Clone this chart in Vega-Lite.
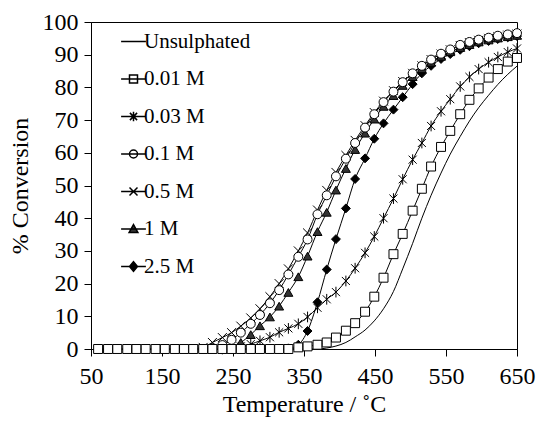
{
  "$schema": "https://vega.github.io/schema/vega-lite/v6.json",
  "width": 426,
  "height": 327,
  "autosize": "none",
  "padding": {"left": 91, "top": 22, "right": 21, "bottom": 72},
  "background": "white",
  "config": {
    "font": "Liberation Serif, Times New Roman, serif",
    "view": {"stroke": "black", "strokeWidth": 1},
    "axis": {
      "grid": false,
      "domainColor": "black",
      "tickColor": "black",
      "labelColor": "black",
      "titleColor": "black",
      "labelFont": "Liberation Serif, Times New Roman, serif",
      "titleFont": "Liberation Serif, Times New Roman, serif",
      "labelFontSize": 24,
      "titleFontSize": 24,
      "titleFontWeight": "normal",
      "tickSize": 7
    },
    "legend": {
      "labelFont": "Liberation Serif, Times New Roman, serif",
      "labelFontSize": 21,
      "labelColor": "black",
      "padding": 0
    }
  },
  "data": {
    "values": [
      {"s":"Unsulphated","t":60,"v":0},{"s":"Unsulphated","t":74,"v":0},{"s":"Unsulphated","t":87,"v":0},{"s":"Unsulphated","t":101,"v":0},{"s":"Unsulphated","t":114,"v":0},{"s":"Unsulphated","t":127,"v":0},{"s":"Unsulphated","t":141,"v":0},{"s":"Unsulphated","t":154,"v":0},{"s":"Unsulphated","t":168,"v":0},{"s":"Unsulphated","t":181,"v":0},{"s":"Unsulphated","t":194,"v":0},{"s":"Unsulphated","t":208,"v":0},{"s":"Unsulphated","t":221,"v":0},{"s":"Unsulphated","t":235,"v":0},{"s":"Unsulphated","t":248,"v":0},{"s":"Unsulphated","t":261,"v":0},{"s":"Unsulphated","t":275,"v":0},{"s":"Unsulphated","t":288,"v":0},{"s":"Unsulphated","t":302,"v":0},{"s":"Unsulphated","t":315,"v":0},{"s":"Unsulphated","t":328,"v":0},{"s":"Unsulphated","t":342,"v":0},{"s":"Unsulphated","t":355,"v":0},{"s":"Unsulphated","t":369,"v":0},{"s":"Unsulphated","t":382,"v":0.3},{"s":"Unsulphated","t":395,"v":0.9},{"s":"Unsulphated","t":409,"v":2},{"s":"Unsulphated","t":422,"v":3.7},{"s":"Unsulphated","t":436,"v":5.8},{"s":"Unsulphated","t":449,"v":8.6},{"s":"Unsulphated","t":462,"v":12.3},{"s":"Unsulphated","t":476,"v":17.6},{"s":"Unsulphated","t":489,"v":24.5},{"s":"Unsulphated","t":503,"v":32.3},{"s":"Unsulphated","t":516,"v":40},{"s":"Unsulphated","t":529,"v":47},{"s":"Unsulphated","t":543,"v":53.8},{"s":"Unsulphated","t":556,"v":59.6},{"s":"Unsulphated","t":570,"v":65},{"s":"Unsulphated","t":583,"v":69.7},{"s":"Unsulphated","t":596,"v":73.8},{"s":"Unsulphated","t":610,"v":77.6},{"s":"Unsulphated","t":623,"v":80.9},{"s":"Unsulphated","t":637,"v":84},{"s":"Unsulphated","t":650,"v":86.5},

      {"s":"0.03 M","t":235,"v":0},{"s":"0.03 M","t":248,"v":0.3},{"s":"0.03 M","t":261,"v":0.8},{"s":"0.03 M","t":275,"v":1.5},{"s":"0.03 M","t":288,"v":2.5},{"s":"0.03 M","t":302,"v":3.6},{"s":"0.03 M","t":315,"v":5.1},{"s":"0.03 M","t":328,"v":6.3},{"s":"0.03 M","t":342,"v":7.7},{"s":"0.03 M","t":355,"v":9.8},{"s":"0.03 M","t":369,"v":12.6},{"s":"0.03 M","t":382,"v":15.2},{"s":"0.03 M","t":395,"v":17.4},{"s":"0.03 M","t":409,"v":20.8},{"s":"0.03 M","t":422,"v":24.7},{"s":"0.03 M","t":436,"v":29.4},{"s":"0.03 M","t":449,"v":34.4},{"s":"0.03 M","t":462,"v":40},{"s":"0.03 M","t":476,"v":46},{"s":"0.03 M","t":489,"v":51.9},{"s":"0.03 M","t":503,"v":57.9},{"s":"0.03 M","t":516,"v":63},{"s":"0.03 M","t":529,"v":68.2},{"s":"0.03 M","t":543,"v":72.7},{"s":"0.03 M","t":556,"v":76.4},{"s":"0.03 M","t":570,"v":80.3},{"s":"0.03 M","t":583,"v":83.2},{"s":"0.03 M","t":596,"v":85.6},{"s":"0.03 M","t":610,"v":87.7},{"s":"0.03 M","t":623,"v":89.3},{"s":"0.03 M","t":637,"v":90.8},{"s":"0.03 M","t":650,"v":91.9},

      {"s":"0.5 M","t":194,"v":0},{"s":"0.5 M","t":208,"v":0.5},{"s":"0.5 M","t":221,"v":2},{"s":"0.5 M","t":235,"v":3.5},{"s":"0.5 M","t":248,"v":5},{"s":"0.5 M","t":261,"v":7},{"s":"0.5 M","t":275,"v":9.5},{"s":"0.5 M","t":288,"v":12.3},{"s":"0.5 M","t":302,"v":16},{"s":"0.5 M","t":315,"v":20},{"s":"0.5 M","t":328,"v":24.5},{"s":"0.5 M","t":342,"v":30},{"s":"0.5 M","t":355,"v":35.5},{"s":"0.5 M","t":369,"v":42.5},{"s":"0.5 M","t":382,"v":48.5},{"s":"0.5 M","t":395,"v":54},{"s":"0.5 M","t":409,"v":59.2},{"s":"0.5 M","t":422,"v":63.8},{"s":"0.5 M","t":436,"v":68.3},{"s":"0.5 M","t":449,"v":72.3},{"s":"0.5 M","t":462,"v":75.8},{"s":"0.5 M","t":476,"v":79},{"s":"0.5 M","t":489,"v":81.8},{"s":"0.5 M","t":503,"v":84.3},{"s":"0.5 M","t":516,"v":86.6},{"s":"0.5 M","t":529,"v":88.5},{"s":"0.5 M","t":543,"v":90.2},{"s":"0.5 M","t":556,"v":91.5},{"s":"0.5 M","t":570,"v":92.8},{"s":"0.5 M","t":583,"v":93.7},{"s":"0.5 M","t":596,"v":94.4},{"s":"0.5 M","t":610,"v":95},{"s":"0.5 M","t":623,"v":95.5},{"s":"0.5 M","t":637,"v":96},{"s":"0.5 M","t":650,"v":96.3},

      {"s":"2.5 M","t":315,"v":0},{"s":"2.5 M","t":328,"v":0.2},{"s":"2.5 M","t":342,"v":1.3},{"s":"2.5 M","t":355,"v":5.5},{"s":"2.5 M","t":369,"v":14.3},{"s":"2.5 M","t":382,"v":24.3},{"s":"2.5 M","t":395,"v":33.6},{"s":"2.5 M","t":409,"v":43},{"s":"2.5 M","t":422,"v":52},{"s":"2.5 M","t":436,"v":58.3},{"s":"2.5 M","t":449,"v":64.3},{"s":"2.5 M","t":462,"v":69},{"s":"2.5 M","t":476,"v":73.2},{"s":"2.5 M","t":489,"v":77},{"s":"2.5 M","t":503,"v":81},{"s":"2.5 M","t":516,"v":84.3},{"s":"2.5 M","t":529,"v":86.6},{"s":"2.5 M","t":543,"v":88.7},{"s":"2.5 M","t":556,"v":90.2},{"s":"2.5 M","t":570,"v":91.5},{"s":"2.5 M","t":583,"v":92.6},{"s":"2.5 M","t":596,"v":93.5},{"s":"2.5 M","t":610,"v":94.2},{"s":"2.5 M","t":623,"v":94.8},{"s":"2.5 M","t":637,"v":95.3},{"s":"2.5 M","t":650,"v":95.7},

      {"s":"1 M","t":235,"v":0},{"s":"1 M","t":248,"v":0.7},{"s":"1 M","t":261,"v":2},{"s":"1 M","t":275,"v":4.4},{"s":"1 M","t":288,"v":7.1},{"s":"1 M","t":302,"v":9.8},{"s":"1 M","t":315,"v":13.1},{"s":"1 M","t":328,"v":17.3},{"s":"1 M","t":342,"v":22.1},{"s":"1 M","t":355,"v":28.4},{"s":"1 M","t":369,"v":35.9},{"s":"1 M","t":382,"v":41.8},{"s":"1 M","t":395,"v":48.6},{"s":"1 M","t":409,"v":55.2},{"s":"1 M","t":422,"v":61},{"s":"1 M","t":436,"v":66},{"s":"1 M","t":449,"v":70.3},{"s":"1 M","t":462,"v":74.2},{"s":"1 M","t":476,"v":77.5},{"s":"1 M","t":489,"v":80.6},{"s":"1 M","t":503,"v":83.3},{"s":"1 M","t":516,"v":85.7},{"s":"1 M","t":529,"v":87.7},{"s":"1 M","t":543,"v":89.5},{"s":"1 M","t":556,"v":90.9},{"s":"1 M","t":570,"v":92.2},{"s":"1 M","t":583,"v":93.1},{"s":"1 M","t":596,"v":93.9},{"s":"1 M","t":610,"v":94.5},{"s":"1 M","t":623,"v":95.1},{"s":"1 M","t":637,"v":95.5},{"s":"1 M","t":650,"v":95.9},

      {"s":"0.1 M","t":208,"v":0},{"s":"0.1 M","t":221,"v":0.3},{"s":"0.1 M","t":235,"v":1.2},{"s":"0.1 M","t":248,"v":2.8},{"s":"0.1 M","t":261,"v":5},{"s":"0.1 M","t":275,"v":7.7},{"s":"0.1 M","t":288,"v":10.4},{"s":"0.1 M","t":302,"v":14},{"s":"0.1 M","t":315,"v":18},{"s":"0.1 M","t":328,"v":22.8},{"s":"0.1 M","t":342,"v":28.2},{"s":"0.1 M","t":355,"v":33.5},{"s":"0.1 M","t":369,"v":41.2},{"s":"0.1 M","t":382,"v":47},{"s":"0.1 M","t":395,"v":52.8},{"s":"0.1 M","t":409,"v":58.2},{"s":"0.1 M","t":422,"v":63},{"s":"0.1 M","t":436,"v":67.7},{"s":"0.1 M","t":449,"v":71.8},{"s":"0.1 M","t":462,"v":75.5},{"s":"0.1 M","t":476,"v":78.7},{"s":"0.1 M","t":489,"v":81.6},{"s":"0.1 M","t":503,"v":84.3},{"s":"0.1 M","t":516,"v":86.6},{"s":"0.1 M","t":529,"v":88.5},{"s":"0.1 M","t":543,"v":90.3},{"s":"0.1 M","t":556,"v":91.6},{"s":"0.1 M","t":570,"v":93},{"s":"0.1 M","t":583,"v":93.9},{"s":"0.1 M","t":596,"v":94.6},{"s":"0.1 M","t":610,"v":95.2},{"s":"0.1 M","t":623,"v":95.8},{"s":"0.1 M","t":637,"v":96.2},{"s":"0.1 M","t":650,"v":96.6},

      {"s":"0.01 M","t":60,"v":0},{"s":"0.01 M","t":74,"v":0},{"s":"0.01 M","t":87,"v":0},{"s":"0.01 M","t":101,"v":0},{"s":"0.01 M","t":114,"v":0},{"s":"0.01 M","t":127,"v":0},{"s":"0.01 M","t":141,"v":0},{"s":"0.01 M","t":154,"v":0},{"s":"0.01 M","t":168,"v":0},{"s":"0.01 M","t":181,"v":0},{"s":"0.01 M","t":194,"v":0},{"s":"0.01 M","t":208,"v":0},{"s":"0.01 M","t":221,"v":0},{"s":"0.01 M","t":235,"v":0},{"s":"0.01 M","t":248,"v":0},{"s":"0.01 M","t":261,"v":0},{"s":"0.01 M","t":275,"v":0},{"s":"0.01 M","t":288,"v":0},{"s":"0.01 M","t":302,"v":0},{"s":"0.01 M","t":315,"v":0},{"s":"0.01 M","t":328,"v":0},{"s":"0.01 M","t":342,"v":0.5},{"s":"0.01 M","t":355,"v":0.8},{"s":"0.01 M","t":369,"v":1.3},{"s":"0.01 M","t":382,"v":2},{"s":"0.01 M","t":395,"v":3.5},{"s":"0.01 M","t":409,"v":5.6},{"s":"0.01 M","t":422,"v":7.9},{"s":"0.01 M","t":436,"v":11.4},{"s":"0.01 M","t":449,"v":16},{"s":"0.01 M","t":462,"v":21.8},{"s":"0.01 M","t":476,"v":29},{"s":"0.01 M","t":489,"v":35.2},{"s":"0.01 M","t":503,"v":42.3},{"s":"0.01 M","t":516,"v":49},{"s":"0.01 M","t":529,"v":55.8},{"s":"0.01 M","t":543,"v":61.8},{"s":"0.01 M","t":556,"v":66.7},{"s":"0.01 M","t":570,"v":71.8},{"s":"0.01 M","t":583,"v":76.2},{"s":"0.01 M","t":596,"v":79.7},{"s":"0.01 M","t":610,"v":83},{"s":"0.01 M","t":623,"v":85.6},{"s":"0.01 M","t":637,"v":87.9},{"s":"0.01 M","t":650,"v":89}
    ]
  },
  "encoding": {
    "x": {
      "field": "t",
      "type": "quantitative",
      "scale": {"domain": [50, 650], "nice": false, "zero": false},
      "axis": {
        "title": "Temperature / ˚C",
        "values": [50, 150, 250, 350, 450, 550, 650],
        "labelPadding": 8,
        "titlePadding": 4,
        "labelFlush": false
      }
    },
    "y": {
      "field": "v",
      "type": "quantitative",
      "scale": {"domain": [0, 100], "nice": false},
      "axis": {
        "title": "% Conversion",
        "values": [0, 10, 20, 30, 40, 50, 60, 70, 80, 90, 100],
        "labelPadding": 6,
        "titlePadding": 10,
        "labelFlush": false
      }
    }
  },
  "resolve": {
    "scale": {"shape": "independent", "fill": "independent"},
    "legend": {"shape": "independent", "fill": "independent"}
  },
  "layer": [
    {
      "mark": {"type": "line", "color": "black", "strokeWidth": 1, "interpolate": "monotone"},
      "encoding": {
        "detail": {"field": "s", "type": "nominal"}
      }
    },
    {
      "transform": [{"filter": "datum.s !== 'Unsulphated'"}],
      "mark": {"type": "point", "filled": true, "stroke": "black", "strokeWidth": 1, "size": 80, "opacity": 1},
      "encoding": {
        "shape": {
          "field": "s",
          "type": "nominal",
          "scale": {
            "domain": ["Unsulphated", "0.01 M", "0.03 M", "0.1 M", "0.5 M", "1 M", "2.5 M"],
            "range": ["M-1,0H1", "square", "M-0.9,-0.9L0.9,0.9M-0.9,0.9L0.9,-0.9M0,-1.2V1.2", "circle", "M-1,-1L1,1M-1,1L1,-1", "triangle-up", "diamond"]
          },
          "legend": null
        },
        "fill": {
          "field": "s",
          "type": "nominal",
          "scale": {
            "domain": ["Unsulphated", "0.01 M", "0.03 M", "0.1 M", "0.5 M", "1 M", "2.5 M"],
            "range": ["white", "white", "black", "white", "black", "#333333", "black"]
          },
          "legend": null
        }
      }
    },
    {
      "transform": [{"filter": "datum.t === 650"}],
      "mark": {"type": "point", "filled": true, "stroke": "black", "strokeWidth": 0, "size": 0, "opacity": 1},
      "encoding": {
        "shape": {
          "field": "s",
          "type": "nominal",
          "scale": {
            "domain": ["Unsulphated", "0.01 M", "0.03 M", "0.1 M", "0.5 M", "1 M", "2.5 M"],
            "range": [
              "M-3.1,0H3.1",
              "M-3.1,0H3.1M-1,-1H1V1H-1Z",
              "M-3.1,0H3.1M-0.9,-0.9L0.9,0.9M-0.9,0.9L0.9,-0.9M0,-1.2V1.2",
              "M-3.1,0H3.1M1,0A1,1,0,1,1,-1,0A1,1,0,1,1,1,0Z",
              "M-3.1,0H3.1M-1,-1L1,1M-1,1L1,-1",
              "M-3.1,0H3.1M0,-1.1L1.1,0.9H-1.1Z",
              "M-3.1,0H3.1M0,-1.2L1,0L0,1.2L-1,0Z"
            ]
          },
          "legend": {
            "title": null,
            "orient": "none",
            "legendX": 32,
            "legendY": 9,
            "rowPadding": 15.5,
            "symbolSize": 64,
            "labelOffset": 0,
            "encode": {
              "symbols": {
                "fill": {"signal": "datum.value === '1 M' ? '#333333' : datum.value === '2.5 M' ? 'black' : 'white'"},
                "fillOpacity": {"value": 1},
                "stroke": {"value": "black"},
                "strokeOpacity": {"value": 1},
                "strokeWidth": {"value": 1},
                "opacity": {"value": 1},
                "size": {"value": 64}
              }
            }
          }
        },
        "fill": {
          "field": "s",
          "type": "nominal",
          "scale": {
            "domain": ["Unsulphated", "0.01 M", "0.03 M", "0.1 M", "0.5 M", "1 M", "2.5 M"],
            "range": ["white", "white", "black", "white", "black", "#333333", "black"]
          },
          "legend": {
            "title": null,
            "orient": "none",
            "legendX": 32,
            "legendY": 9,
            "rowPadding": 15.5,
            "symbolSize": 64,
            "labelOffset": 0,
            "encode": {
              "symbols": {
                "fill": {"signal": "datum.value === '1 M' ? '#333333' : datum.value === '2.5 M' ? 'black' : 'white'"},
                "fillOpacity": {"value": 1},
                "stroke": {"value": "black"},
                "strokeOpacity": {"value": 1},
                "strokeWidth": {"value": 1},
                "opacity": {"value": 1},
                "size": {"value": 64}
              }
            }
          }
        }
      }
    }
  ]
}
